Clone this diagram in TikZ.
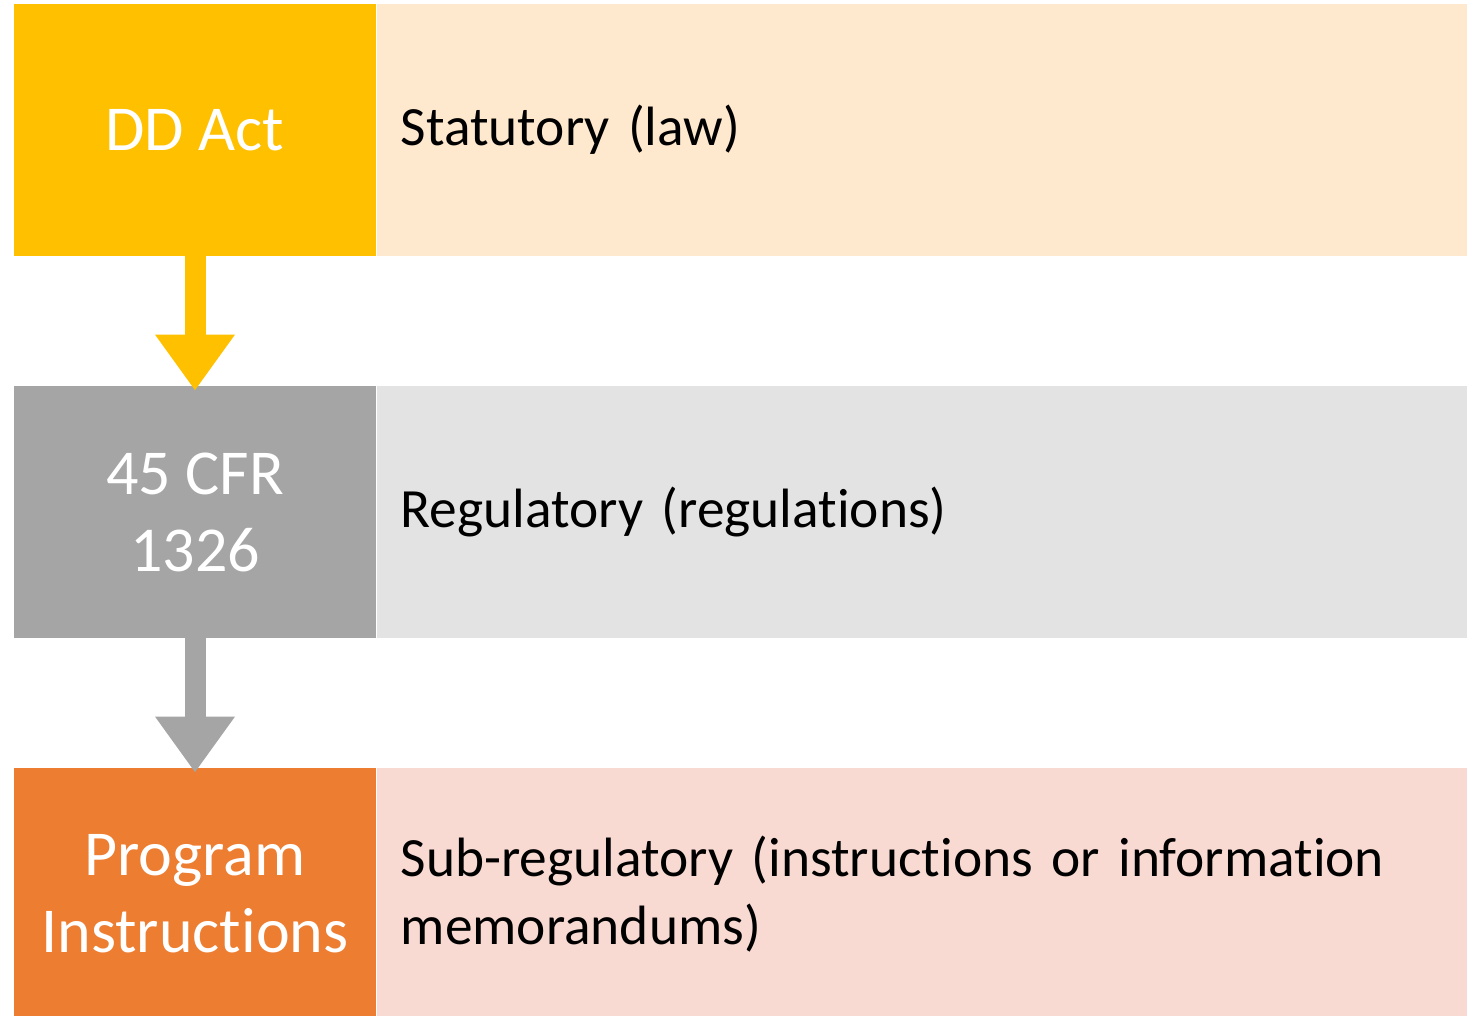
\documentclass[tikz,border=0pt]{standalone}
\usepackage{fontspec}
\setmainfont{Carlito}[Ligatures={NoCommon}]
\usetikzlibrary{arrows.meta}
\definecolor{actyellow}{HTML}{FFC000}
\definecolor{actpeach}{HTML}{FFE9CE}
\definecolor{cfrgray}{HTML}{A5A5A5}
\definecolor{cfrlight}{HTML}{E3E3E3}
\definecolor{piorange}{HTML}{ED7D31}
\definecolor{pipink}{HTML}{F8DAD2}
\begin{document}
\begin{tikzpicture}[x=0.5pt,y=-0.5pt,
    levelbox/.style={inner sep=0pt, minimum width=181pt, minimum height=126pt,
      text=white, align=center, font=\fontsize{32}{38.5}\selectfont},
    levelnote/.style={inner sep=0pt, minimum width=545pt, minimum height=126pt,
      text=black, align=left, text width=521pt, font=\fontsize{27.7}{34}\selectfont},
    downarrow/.style={line width=10.5pt, -{Triangle[width=38pt,length=28pt]}}]
    \useasboundingbox (0,0) rectangle (1473,1016);

    % Left column
    \node[levelbox, fill=actyellow] (act) at (195,130) {DD Act};
    \node[levelbox, fill=cfrgray] (cfr) at (195,512) {45 CFR\\1326};
    \node[levelbox, fill=piorange] (pi) at (195,894) {Program\\Instructions};

    % Right column
    \node[levelnote, fill=actpeach, anchor=west] (law) at (act.east) {Statutory (law)};
    \node[levelnote, fill=cfrlight, anchor=west] (reg) at (cfr.east) {Regulatory (regulations)};
    \node[levelnote, fill=pipink, anchor=west] (sub) at (pi.east)
      {Sub-regulatory (instructions or information\\memorandums)};

    % Arrows
    \draw[downarrow, actyellow] (act.south) -- ([yshift=-2.5pt]cfr.north);
    \draw[downarrow, cfrgray] (cfr.south) -- ([yshift=-2.5pt]pi.north);
\end{tikzpicture}
\end{document}
